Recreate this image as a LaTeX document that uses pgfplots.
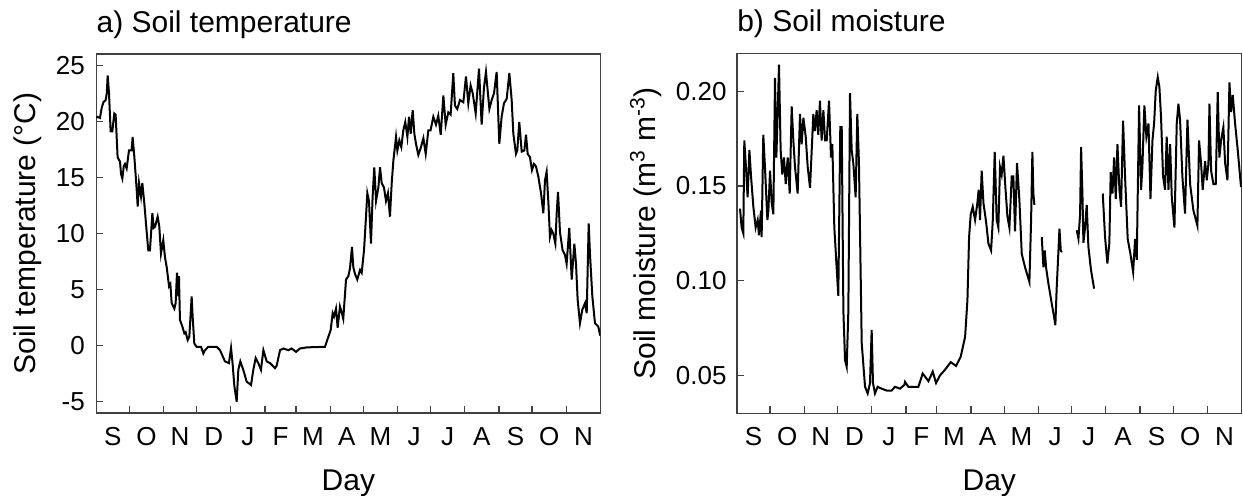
\documentclass[border=0pt]{standalone}
\usepackage{fontspec}
\setmainfont{Liberation Sans}
\usepackage{pgfplots}
\pgfplotsset{compat=1.18}
\usepackage{pgfplotstable}

\pgfplotstableread{
day T
0 20.3
1.3 20.4
3.4 20.3
5 21.2
6.5 21.7
8.6 21.9
9.6 22.5
10.4 24.1
11.6 22.5
13.1 19.1
14.6 19.1
16.4 20.7
17.6 20.6
19.4 16.8
21.6 16.4
22.5 15.3
23.7 14.9
25 16.0
26.1 16.2
27.6 15.8
29.7 17.4
32.1 17.4
33.0 18.6
34.6 16.8
36.7 13.9
37.6 12.4
38.8 14.5
40.6 13.3
41.8 14.5
43.6 12.7
45.1 10.9
47.2 8.5
48.7 8.5
50.9 11.8
52.1 10.5
53.3 10.6
55.7 11.5
57.2 10.6
58.7 8.2
60.8 9.4
62.3 7.9
63.9 7.0
66.0 5.3
67.2 5.5
68.4 3.8
70.8 3.3
72.0 3.8
73.2 6.5
74.4 4.4
75.0 6.2
75.9 2.3
78.1 1.7
79.9 1.1
81.1 1.2
82.9 0.5
84.4 0.8
86.5 4.4
87.4 2.6
88.9 0.2
91.0 -0.1
95.0 -0.1
97.1 -0.7
98.6 -0.4
101.6 -0.1
109.2 -0.1
112.2 -0.4
116.7 -1.4
120.3 -1.55
122.2 -0.2
123.7 -1.7
125.2 -3.6
127.3 -5.0
128.8 -2.15
130.6 -1.4
133.3 -2.15
136.3 -3.2
140.3 -3.5
142.4 -2.15
144.5 -1.1
146.9 -1.55
149.3 -2.15
151.5 -0.4
154.5 -1.4
157.5 -1.55
162.0 -2.0
163.5 -1.8
166.6 -0.4
169.6 -0.25
174.1 -0.4
177.1 -0.25
181.1 -0.55
184.7 -0.25
190.7 -0.15
207.3 -0.1
210.4 0.8
212.5 1.4
214.3 2.9
215.5 2.6
217.3 3.3
218.8 1.6
220.9 3.5
222.4 3.0
223.9 2.4
226.4 5.9
228.5 6.2
230.0 6.9
231.8 8.8
233.0 7.0
234.5 6.4
236.6 5.9
239.1 6.75
240.6 6.5
242.7 8.5
244.5 11.5
245.7 13.6
247.2 12.9
249.0 9.1
250.5 13.3
252.0 15.9
253.6 12.9
255.7 14.1
257.2 15.9
258.7 14.5
260.8 14.1
262.6 12.9
264.4 13.6
266.2 11.5
267.8 14.5
269.3 16.5
271.7 18.6
272.9 17.4
274.7 18.3
276.5 17.7
278.3 19.2
280.1 19.95
282.0 18.6
283.5 20.4
285.0 18.9
286.8 21.0
288.3 18.9
289.8 18.0
291.9 17.0
294.0 17.6
296.5 18.5
298.6 17.1
301.0 19.2
303 19.2
305.5 20.4
307.9 19.7
310.0 20.5
312.2 18.8
314.6 22.3
316.7 19.7
319.1 20.8
321.2 20.6
323.6 24.3
325.1 21.4
327.2 21.1
329.7 21.9
332.7 21.7
335.1 24.0
337.2 21.6
339.3 23.2
341.2 22.5
343.9 20.7
346.9 24.7
349.3 19.7
351.4 23.0
353.2 24.4
356.3 21.1
358.4 21.9
360.5 22.5
362.9 24.4
365.3 18.0
367.4 20.4
369.5 21.6
372.0 22.0
374.4 24.3
376.5 21.9
378.0 18.9
380.4 17.1
381.6 17.4
383.4 19.95
385.6 17.3
388.0 17.4
389.5 18.8
391.0 17.1
393.1 16.8
394.9 15.65
396.7 16.2
398.5 16.0
400.7 15.05
403.1 13.6
405.2 11.8
406.7 14.75
408.2 15.5
409.7 12.9
411.2 9.7
412.7 10.3
414.2 10.0
416.1 9.1
417.3 11.8
418.5 13.7
420.3 10.1
422.7 8.5
424.8 8.1
426.3 7.3
428.7 10.5
430.9 5.9
433.3 9.1
434.8 7.3
436.3 4.1
438.4 2.0
440.5 3.2
443.0 3.8
444.5 2.9
446.3 10.9
447.5 8.1
449.6 4.4
452.0 2.0
455.0 1.7
456.5 1.0
457 0.9
}\soiltemp

\pgfplotstableread{
day M
2.8 0.138
4.3 0.128
5.8 0.125
6.7 0.174
8.2 0.160
9.7 0.144
11.3 0.169
12.8 0.155
14.9 0.139
17.0 0.128
18.8 0.132
20.0 0.124
21.8 0.137
22.4 0.123
23.9 0.177
25.4 0.160
27.6 0.132
28.5 0.137
30.0 0.158
31.5 0.141
33.0 0.135
34.5 0.207
35.7 0.165
36.9 0.188
38.1 0.214
39.6 0.169
41.1 0.156
42.6 0.165
44.2 0.151
46.0 0.165
47.8 0.146
49.6 0.192
51.1 0.174
52.6 0.160
55.0 0.146
57.1 0.188
58.6 0.172
60.2 0.186
62.3 0.176
64.1 0.160
66.2 0.149
69.2 0.188
70.7 0.179
72.2 0.190
73.7 0.177
75.2 0.195
76.7 0.174
78.3 0.190
79.8 0.174
81.3 0.174
83.4 0.195
85.2 0.165
86.4 0.172
88.2 0.128
90.0 0.110
91.8 0.092
93.6 0.181
94.9 0.181
96.4 0.084
97.9 0.058
99.4 0.0545
100.9 0.084
102.4 0.199
103.9 0.169
105.4 0.162
107.5 0.144
109.0 0.188
110.5 0.162
113.0 0.067
116.0 0.044
118.4 0.0405
120.5 0.046
122.0 0.074
123.2 0.046
125.0 0.0405
127.4 0.044
131.1 0.043
135.6 0.042
140.1 0.042
143.1 0.044
147.7 0.043
151.6 0.045
152.2 0.0466
155.2 0.044
164.3 0.044
168.2 0.051
173.4 0.047
177.3 0.052
180.3 0.046
183.9 0.050
188.4 0.053
193.6 0.057
198.4 0.055
202.6 0.0598
206.6 0.0704
208.7 0.0897
210.2 0.123
211.7 0.135
213.5 0.139
215.6 0.132
217.7 0.141
218.9 0.148
220.1 0.132
221.6 0.158
223.2 0.141
225.6 0.131
227.7 0.1196
230.1 0.116
231.6 0.131
233.4 0.168
235.2 0.132
236.7 0.128
238.2 0.160
239.7 0.156
241.3 0.166
243.1 0.149
244.9 0.134
246.7 0.128
248.8 0.155
250.3 0.155
251.8 0.126
253.6 0.162
255.7 0.143
257.9 0.114
260.9 0.107
264.8 0.0993
266.3 0.131
267.5 0.168
268.4 0.146
269.3 0.140
272.0 nan
276.0 0.123
277.5 0.107
278.7 0.116
279.9 0.107
282.0 0.0985
285.0 0.088
287.1 0.081
288.3 0.0765
289.5 0.096
290.8 0.112
292.0 0.1275
293.2 0.116
294.1 0.115
300.0 nan
307.7 0.1266
309.2 0.1222
310.7 0.135
311.6 0.1705
312.8 0.146
313.7 0.120
315.2 0.128
316.7 0.140
318.2 0.118
320.6 0.1055
323.4 0.0958
327.0 nan
331.2 0.146
333.3 0.123
335.4 0.109
337.2 0.120
338.4 0.1573
340.0 0.146
341.5 0.165
343.0 0.143
344.5 0.172
346.3 0.148
347.8 0.139
349.6 0.1845
351.4 0.155
353.8 0.122
356.3 0.114
358.7 0.1046
360.5 0.122
362.0 0.111
364.1 0.1925
365.9 0.148
367.1 0.160
368.9 0.1925
370.7 0.176
372.6 0.183
374.4 0.143
376.2 0.174
377.7 0.183
379.2 0.2004
381.0 0.2074
382.5 0.2022
384.0 0.186
385.8 0.155
387.6 0.148
389.1 0.176
390.7 0.148
392.2 0.172
393.7 0.144
396.1 0.128
398.2 0.183
399.7 0.1934
401.2 0.185
403.3 0.155
405.7 0.1354
407.9 0.185
410.3 0.151
413.3 0.137
416.9 0.129
418.4 0.174
420.2 0.162
421.7 0.148
423.9 0.163
425.4 0.153
426.9 0.162
427.8 0.1934
429.3 0.158
431.4 0.151
433.5 0.151
435.3 0.1995
436.8 0.165
438.3 0.174
440.4 0.181
442.0 0.162
444.1 0.153
445.9 0.2047
447.4 0.189
448.9 0.198
451.0 0.183
453.4 0.169
456.4 0.1494
}\soilmoist

\pgfplotsset{
  soilstyle/.style={
    scale only axis,
    xmin=0, xmax=457,
    axis line style={black!75, line width=0.7pt},
    tick align=inside,
    tick pos=left,
    major tick length=3.5pt,
    every tick/.style={black!75, line width=0.6pt},
    xtick={30,61,91,122,153,181,212,242,273,303,334,365,395,426},
    xticklabels={},
    extra x ticks={15,45.5,76,106.5,137.5,167,196.5,227,257.5,288,318.5,349.5,380,410.5,441.5},
    extra x tick labels={S,O,N,D,J,F,M,A,M,J,J,A,S,O,N},
    extra x tick style={major tick length=0pt,
      tick label style={anchor=base, yshift=-16pt, inner sep=0pt}},
    ticklabel style={font=\fontsize{13}{13}\selectfont},
    scaled y ticks=false,
    yticklabel style={anchor=east, inner sep=0pt},
    label style={font=\fontsize{15}{15}\selectfont},
    xlabel={Day},
    xlabel style={at={(axis description cs:0.5,0)}, anchor=base, yshift=-38.5pt, inner sep=0pt},
    every axis title shift=0pt,
    title style={at={(axis description cs:0,1)}, anchor=base west, inner sep=0pt, yshift=11pt,
      font=\fontsize{15}{15}\selectfont},
    clip=true,
  }
}

\begin{document}
\begin{tikzpicture}
\useasboundingbox (0,0) rectangle (621.5pt,247.5pt);
\begin{axis}[soilstyle,
  at={(48.1pt,41pt)}, anchor=south west,
  width=252.15pt, height=179.5pt,
  ymin=-6, ymax=26,
  ytick={-5,0,5,10,15,20,25},
  yticklabels={-5,0,5,10,15,20,25},
  yticklabel style={xshift=-5.5pt},
  ylabel={Soil temperature (°C)},
  ylabel style={at={(axis description cs:-0.121,0.5)}, anchor=base, inner sep=0pt},
  title={a) Soil temperature},
]
\addplot[black, line width=1pt] table[x=day, y=T] {\soiltemp};
\end{axis}
\begin{axis}[soilstyle,
  at={(368.45pt,40.85pt)}, anchor=south west,
  width=252.4pt, height=180pt,
  ymin=0.03, ymax=0.22,
  ytick={0.05,0.10,0.15,0.20},
  yticklabels={0.05,0.10,0.15,0.20},
  yticklabel style={xshift=-5pt},
  ylabel={Soil moisture (m\textsuperscript{3} m\textsuperscript{-3})},
  ylabel style={at={(axis description cs:-0.162,0.5)}, anchor=base, inner sep=0pt},
  title={b) Soil moisture},
  unbounded coords=jump,
]
\addplot[black, line width=1pt] table[x=day, y=M] {\soilmoist};
\end{axis}
\end{tikzpicture}
\end{document}
